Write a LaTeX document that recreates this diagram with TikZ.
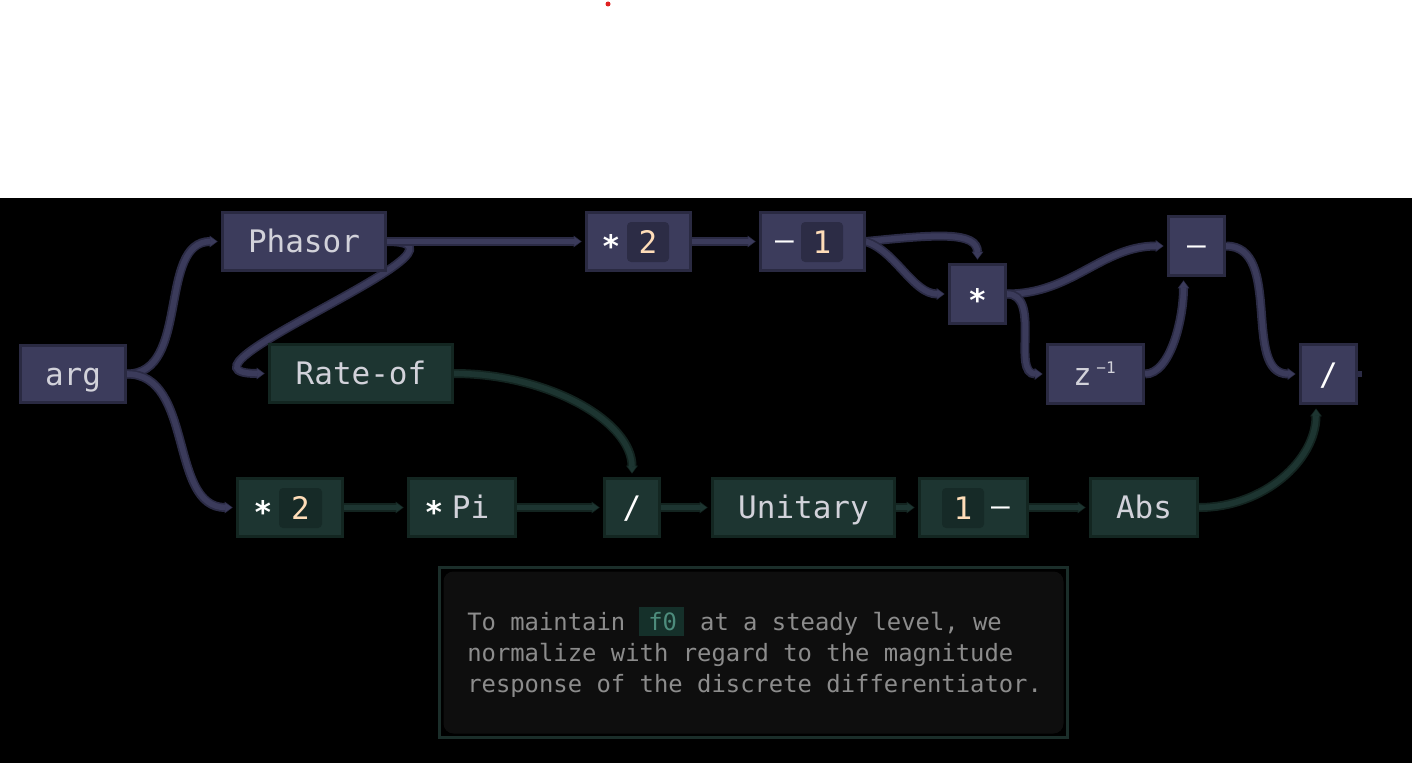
\documentclass[tikz,border=0pt]{standalone}
\usepackage{fontspec}
\newfontfamily\mono{DejaVu Sans Mono}
\usetikzlibrary{arrows.meta,calc}
\pgfdeclarelayer{bg}
\pgfdeclarelayer{edges}
\pgfsetlayers{bg,edges,main}
\definecolor{pF}{HTML}{3C3C5C}
\definecolor{pB}{HTML}{2A2A42}
\definecolor{pIn}{HTML}{2C2C45}
\definecolor{gF}{HTML}{1D3531}
\definecolor{gB}{HTML}{132621}
\definecolor{gIn}{HTML}{162A27}
\definecolor{peO}{HTML}{2B2B45}
\definecolor{peI}{HTML}{3B3B5B}
\definecolor{geO}{HTML}{132420}
\definecolor{geI}{HTML}{1D3531}
\definecolor{lblc}{HTML}{D2D2DA}
\definecolor{numc}{HTML}{FFDDB8}
\definecolor{notec}{HTML}{8C8C8C}
\definecolor{noteB}{HTML}{1B2E2A}
\definecolor{noteF}{HTML}{0E0E0E}
\definecolor{fbg}{HTML}{15302A}
\definecolor{ffg}{HTML}{4D8C7C}
\definecolor{reddot}{HTML}{E02020}
\newcommand\lblfont{\mono\fontsize{23.25pt}{28pt}\selectfont}
\newcommand\notefont{\mono\fontsize{17.9pt}{23pt}\selectfont}
\newcommand\supfont{\mono\fontsize{12pt}{14pt}\selectfont}
\tikzset{
  x=0.75pt, y=-0.75pt,
  sz/.style 2 args={minimum width={#1*0.75pt-2.25pt}, minimum height={#2*0.75pt-2.25pt}},
  boxbase/.style={rectangle, inner sep=0pt, line width=2.25pt, font=\lblfont, text=lblc, text height=17pt, text depth=0pt},
  pn/.style={boxbase, draw=pB, fill=pF},
  gn/.style={boxbase, draw=gB, fill=gF},
  txt/.style={inner sep=0pt, font=\lblfont, text=lblc, text height=17pt, text depth=0pt},
  wsym/.style={txt, text=white},
  pnum/.style={txt, fill=pIn, rounded corners=3pt, minimum width=31.5pt, minimum height=30pt, text=numc},
  gnum/.style={txt, fill=gIn, rounded corners=3pt, minimum width=31.5pt, minimum height=30pt, text=numc},
  pe/.style={draw=peO, line width=6.75pt, shorten >=2.5pt, -{Triangle[length=6pt,width=8.5pt]},
    postaction={draw=peI, line width=4.2pt, shorten >=3.2pt, -{Triangle[length=4.8pt,width=6.2pt]}}},
  ge/.style={draw=geO, line width=6.75pt, shorten >=2.5pt, -{Triangle[length=6pt,width=8.5pt]},
    postaction={draw=geI, line width=4.2pt, shorten >=3.2pt, -{Triangle[length=4.8pt,width=6.2pt]}}},
  notetxt/.style={inner sep=0pt, font=\notefont, text=notec, anchor=base west},
}
\newcommand\starsym{\raisebox{-3.4pt}{\bfseries *}}
\newcommand\dashsym{\raisebox{1.5pt}{–}}
\begin{document}
\begin{tikzpicture}
\useasboundingbox (0,0) rectangle (1412,763);
\begin{pgfonlayer}{bg}
  \fill[white] (0,0) rectangle (1412,198);
  \fill[black] (0,198) rectangle (1412,763);
  \fill[reddot] (608,4) circle (2.5);
\end{pgfonlayer}

% purple nodes
\node[pn, sz={108}{60}] (arg) at (73,374) {arg};
\node[pn, sz={166}{61}] (phasor) at (304,241.5) {Phasor};
\node[pn, sz={107}{61}] (mtwo) at (638.5,241.5) {};
\node[wsym] (mtwos) at (611,241.5) {\starsym};
\node[pnum] (mtwon) at (648,242) {2};
\node[pn, sz={107}{61}] (mone) at (812.5,241.5) {};
\node[wsym] (mones) at (784.5,241.5) {\dashsym};
\node[pnum] (monen) at (822,242) {1};
\node[pn, sz={59}{62}] (mul) at (977.5,294) {};
\node[wsym] (muls) at (977.5,296) {\starsym};
\node[pn, sz={59}{62}] (minus) at (1196.5,246) {};
\node[wsym] (minuss) at (1196.5,246) {\dashsym};
\node[pn, sz={99}{62}] (zinv) at (1095.5,374) {};
\node[txt, anchor=base] (zinvz) at (1082.5,385) {z};
\node[inner sep=0pt, font=\supfont, text=lblc, anchor=base] (zinve) at (1106,373) {−1};
\node[pn, sz={59}{62}, text=white] (divt) at (1328.5,374) {/};

% green nodes
\node[gn, sz={186}{61}] (rate) at (361,373.5) {Rate-of};
\node[gn, sz={108}{61}] (mtwob) at (290,507.5) {};
\node[wsym] (mtwobs) at (263,507.5) {\starsym};
\node[gnum, minimum width=32.25pt] (mtwobn) at (300.5,508) {2};
\node[gn, sz={110}{61}] (mpi) at (462,507.5) {};
\node[wsym] (mpis) at (434,507.5) {\starsym};
\node[txt] (mpit) at (470.5,507.5) {Pi};
\node[gn, sz={58}{61}, text=white] (divb) at (632,507.5) {/};
\node[gn, sz={185}{61}] (unit) at (803.5,507.5) {Unitary};
\node[gn, sz={111}{61}] (onem) at (973.5,507.5) {};
\node[gnum] (onemn) at (963,508) {1};
\node[wsym] (onems) at (1000.5,507.5) {\dashsym};
\node[gn, sz={110}{61}] (abs) at (1144,507.5) {Abs};

\coordinate (stub) at (1361.5,374);

\begin{pgfonlayer}{edges}
  \draw[pe] (arg.east) to[out=0,in=180] (phasor.west);
  \draw[pe] (arg.east) to[out=0,in=180] (mtwob.west);
  \draw[pe] (phasor.east) .. controls +(113,0) and +(-118,0) .. (rate.west);
  \draw[pe] (phasor.east) -- (mtwo.west);
  \draw[pe] (mtwo.east) -- (mone.west);
  \draw[pe] (mone.east) .. controls +(70,-7) and +(0,-32) .. (mul.north);
  \draw[pe] (mone.east) .. controls +(30,10) and +(-35,0) .. (mul.west);
  \draw[pe] (mul.east) to[out=0,in=180] (minus.west);
  \draw[pe] (mul.east) to[out=0,in=180] (zinv.west);
  \draw[pe] (zinv.east) .. controls +(25,0) and +(0,43) .. ($(minus.south)+(-13,0)$);
  \draw[pe] (minus.east) to[out=0,in=180] (divt.west);
  \draw[draw=peO, line width=4.5pt] (divt.east) -- (stub);
  \draw[ge] (rate.east) .. controls +(95,0) and +(0,-55) .. (divb.north);
  \draw[ge] (mtwob.east) -- (mpi.west);
  \draw[ge] (mpi.east) -- (divb.west);
  \draw[ge] (divb.east) -- (unit.west);
  \draw[ge] (unit.east) -- (onem.west);
  \draw[ge] (onem.east) -- (abs.west);
  \draw[ge] (abs.east) .. controls +(65,0) and +(0,55) .. ($(divt.south)+(-12.5,0)$);
\end{pgfonlayer}

% note box
\draw[draw=noteB, line width=2.25pt, fill=black] (439.5,567.5) rectangle (1067.5,737.5);
\fill[noteF, rounded corners=7.5pt] (443.5,571.5) rectangle (1063.5,733.5);
\fill[fbg] (639,607) rectangle (684,636);
\node[notetxt] (l1) at (467,630) {To maintain\ \kern6.5pt{\color{ffg}f0}\kern6.5pt\ at a steady level, we};
\node[notetxt] (l2) at (467,661) {normalize with regard to the magnitude};
\node[notetxt] (l3) at (467,692) {response of the discrete differentiator.};
\end{tikzpicture}
\end{document}
